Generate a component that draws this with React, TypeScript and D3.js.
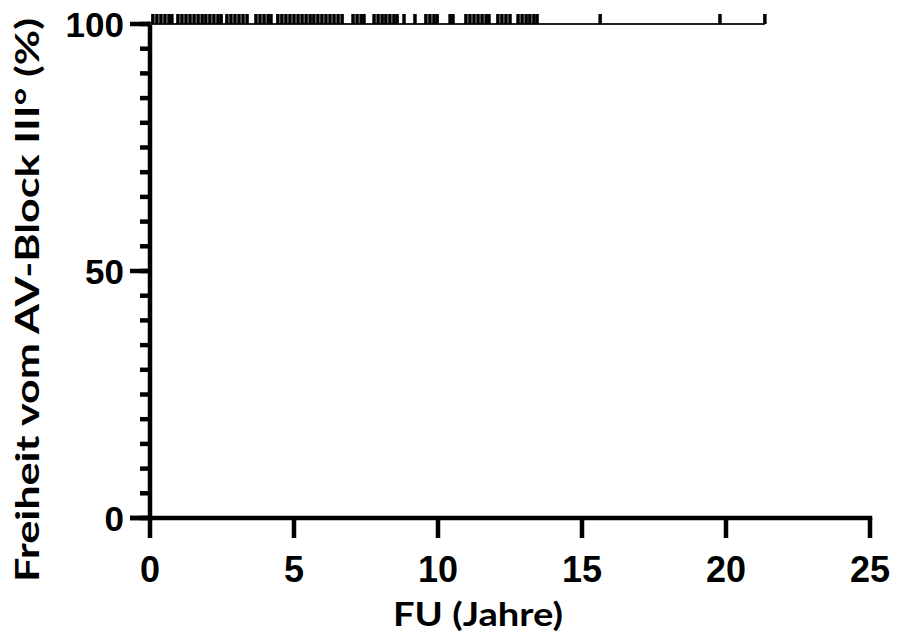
import React, { useEffect, useRef } from "react";
import * as d3 from "d3";

// censored follow-up times (years), all patients free of AV-block III°
const censorTimes = [
  0.1, 0.24, 0.38, 0.52, 0.66, 0.76,
  0.97, 1.11, 1.25, 1.39, 1.53, 1.67, 1.81, 1.94, 2.08, 2.22, 2.36, 2.47,
  2.67, 2.81, 2.95, 3.09, 3.23, 3.37,
  3.68, 3.82, 3.96, 4.1, 4.2,
  4.44, 4.58, 4.72, 4.86, 5.0, 5.14, 5.28, 5.42, 5.56, 5.69, 5.83, 5.97, 6.11, 6.25, 6.39, 6.53, 6.67,
  7.05, 7.19, 7.33, 7.43,
  7.78, 7.92, 8.06, 8.19, 8.33, 8.47, 8.58,
  8.82, 9.2,
  9.58, 9.72, 9.86, 9.97,
  10.42, 10.52,
  10.97, 11.11, 11.25, 11.39, 11.53, 11.67, 11.77,
  12.08, 12.22, 12.36, 12.5,
  12.78, 12.92, 13.06, 13.19, 13.33, 13.44,
  15.63, 19.79, 21.35,
];
const survival = [100, 100];
const survivalTimes = [0, 21.35];
const xTicks = [0, 5, 10, 15, 20, 25];
const yTicks = [0, 50, 100];
const yMinorTicks = d3.range(0, 101, 5);

export default function App() {
  const ref = useRef<SVGSVGElement>(null);

  useEffect(() => {
    const svg = d3.select(ref.current);
    svg.selectAll("*").remove();
    const x = d3.scaleLinear().domain([0, 25]).range([150, 870]);
    const y = d3.scaleLinear().domain([0, 100]).range([518, 24]);
    const sw = 4.5;

    // y axis
    svg.append("line").attr("x1", 150).attr("x2", 150).attr("y1", y(100) - sw / 2).attr("y2", y(0))
      .attr("stroke", "#000").attr("stroke-width", sw);
    svg.selectAll(".ymin").data(yMinorTicks).join("line")
      .attr("x1", 140).attr("x2", 150).attr("y1", (d) => y(d)).attr("y2", (d) => y(d))
      .attr("stroke", "#000").attr("stroke-width", sw);
    svg.selectAll(".ymaj").data(yTicks).join("line")
      .attr("x1", 130).attr("x2", 150).attr("y1", (d) => y(d)).attr("y2", (d) => y(d))
      .attr("stroke", "#000").attr("stroke-width", sw);
    svg.selectAll(".ylab").data(yTicks).join("text")
      .attr("x", 124).attr("y", (d) => y(d)).attr("dy", "0.36em")
      .attr("text-anchor", "end").attr("font-family", "Liberation Sans, Arial, sans-serif")
      .attr("font-weight", "bold").attr("font-size", 35).text((d) => d);

    // x axis
    svg.append("line").attr("x1", 130).attr("x2", x(25) + sw / 2).attr("y1", y(0)).attr("y2", y(0))
      .attr("stroke", "#000").attr("stroke-width", sw);
    svg.selectAll(".xmaj").data(xTicks).join("line")
      .attr("x1", (d) => x(d)).attr("x2", (d) => x(d)).attr("y1", y(0)).attr("y2", 538)
      .attr("stroke", "#000").attr("stroke-width", sw);
    svg.selectAll(".xlab").data(xTicks).join("text")
      .attr("x", (d) => x(d)).attr("y", 582)
      .attr("text-anchor", "middle").attr("font-family", "Liberation Sans, Arial, sans-serif")
      .attr("font-weight", "bold").attr("font-size", 36).text((d) => d);

    // survival curve
    const line = d3.line<number>().x((_, i) => x(survivalTimes[i])).y((d) => y(d)).curve(d3.curveStepAfter);
    svg.append("path").datum(survival).attr("d", line).attr("fill", "none")
      .attr("stroke", "#222").attr("stroke-width", 2);
    svg.selectAll(".cens").data(censorTimes).join("rect")
      .attr("x", (d) => x(d) - 1.75).attr("y", y(100) - 10).attr("width", 3.5).attr("height", 10)
      .attr("fill", "#000");

    // titles
    svg.append("text").attr("x", 478).attr("y", 626).attr("text-anchor", "middle")
      .attr("font-family", "Lato, sans-serif").attr("font-weight", "bold").attr("font-size", 33)
      .attr("textLength", 170).attr("lengthAdjust", "spacingAndGlyphs").text("FU (Jahre)");
    svg.append("text").attr("transform", "translate(39,300) rotate(-90)").attr("text-anchor", "middle")
      .attr("font-family", "Lato, sans-serif").attr("font-weight", "bold").attr("font-size", 33)
      .attr("textLength", 564).attr("lengthAdjust", "spacingAndGlyphs").text("Freiheit vom AV-Block III° (%)");
  }, []);

  return (
    <svg ref={ref} width={897} height={640} style={{ position: "absolute", left: 0, top: 0, background: "#fff" }} />
  );
}
